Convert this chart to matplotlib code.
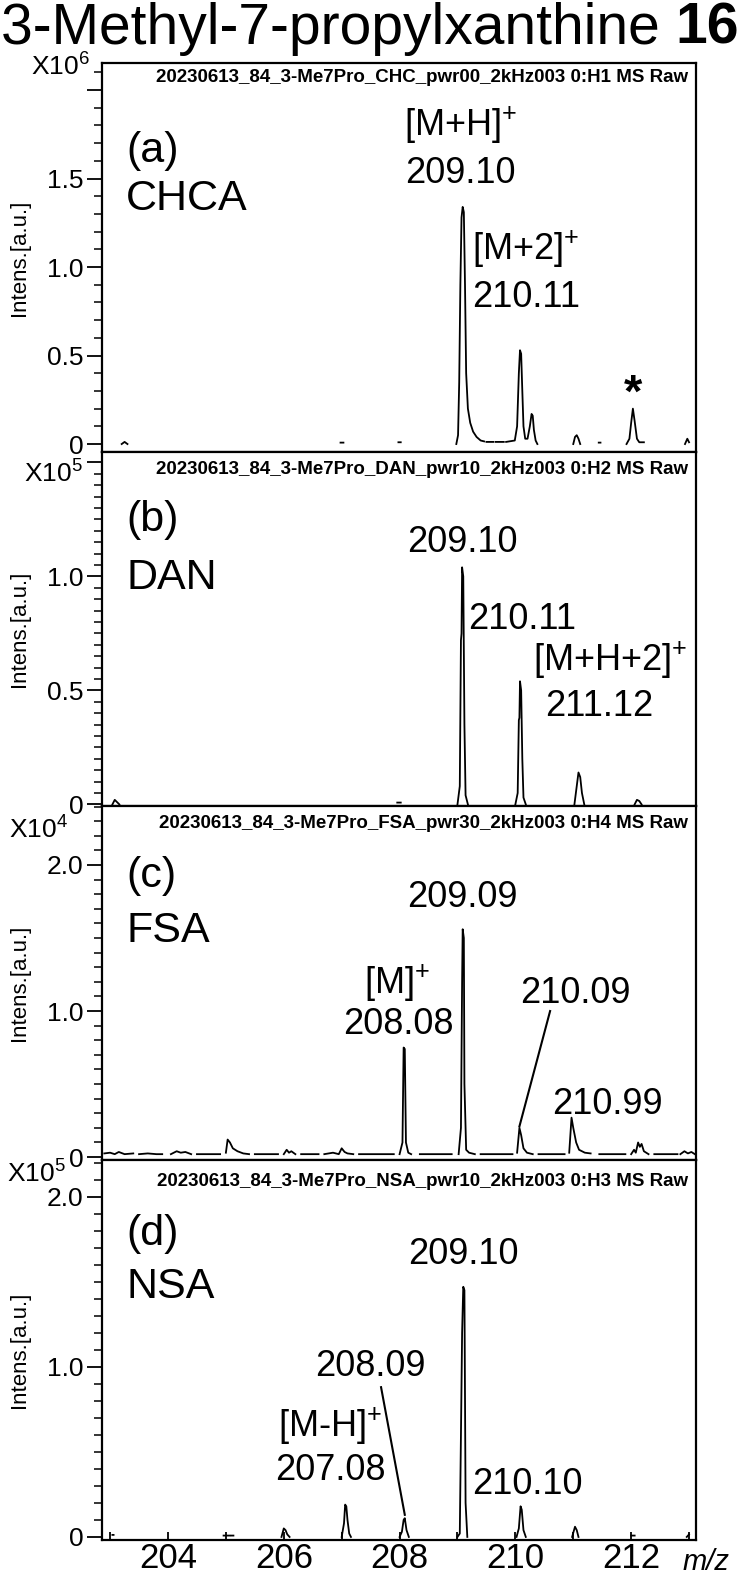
import numpy as np
import matplotlib
matplotlib.use('Agg')
import matplotlib.pyplot as plt
from matplotlib.ticker import FixedLocator, FixedFormatter, MultipleLocator

plt.rcParams['font.family'] = ['Liberation Sans', 'DejaVu Sans']
plt.rcParams['mathtext.fontset'] = 'custom'
plt.rcParams['mathtext.rm'] = 'Liberation Sans'
plt.rcParams['mathtext.it'] = 'Liberation Sans:italic'
plt.rcParams['mathtext.bf'] = 'Liberation Sans:bold'
nan = np.nan

# ---- data -------------------------------------------------------------
title = '3-Methyl-7-propylxanthine'
compound_no = '16'
panel_tags = ['(a)', '(b)', '(c)', '(d)']
matrices = ['CHCA', 'DAN', 'FSA', 'NSA']
run_names = ['20230613_84_3-Me7Pro_CHC_pwr00_2kHz003 0:H1 MS Raw',
             '20230613_84_3-Me7Pro_DAN_pwr10_2kHz003 0:H2 MS Raw',
             '20230613_84_3-Me7Pro_FSA_pwr30_2kHz003 0:H4 MS Raw',
             '20230613_84_3-Me7Pro_NSA_pwr10_2kHz003 0:H3 MS Raw']
exponents = [6, 5, 4, 5]
ylims = [(-0.045, 2.153), (-0.007, 1.546), (-0.02, 2.404), (-0.018, 2.215)]
ytick_values = [[0, 0.5, 1.0, 1.5, 2.0], [0, 0.5, 1.0, 1.5], [0, 1.0, 2.0], [0, 1.0, 2.0]]
ytick_labels = [['0', '0.5', '1.0', '1.5', ''], ['0', '0.5', '1.0', ''], ['0', '1.0', '2.0'], ['0', '1.0', '2.0']]
minor_steps = [0.1, 0.05, 0.1, 0.1]

xticks = [204, 206, 208, 210, 212]
xlim = (202.86, 213.12)

# spectra (intensity in units of 10^exponent), nan separates segments
chca_mz = [203.20, 203.25, 203.30, nan,
           206.98, 207.03, nan,
           207.98, 208.02, nan,
           208.98, 209.01, 209.03, 209.05, 209.07, 209.09, 209.11, 209.13, 209.15, 209.18,
           209.22, 209.27, 209.33, 209.40, 209.46, nan,
           209.50, 209.62, nan, 209.66, 209.80, nan,
           209.84, 209.99, 210.03, 210.06, 210.08, 210.10, 210.12, 210.14, 210.17, 210.21,
           210.25, 210.28, 210.30, 210.32, 210.35, 210.38, nan,
           211.00, 211.03, 211.06, 211.09, 211.12, nan,
           211.44, 211.47, nan,
           211.92, 211.97, 212.00, 212.03, 212.06, 212.10, 212.14, 212.22, nan,
           212.93, 212.97, 213.00]
chca_int = [0, 0.012, 0, nan,
            0.008, 0.008, nan,
            0.01, 0.01, nan,
            0, 0.05, 0.35, 0.90, 1.28, 1.34, 1.31, 0.90, 0.40, 0.20,
            0.12, 0.07, 0.04, 0.02, 0.015, nan,
            0.012, 0.012, nan, 0.012, 0.012, nan,
            0.012, 0.02, 0.10, 0.40, 0.53, 0.51, 0.30, 0.10, 0.03, 0.03,
            0.10, 0.17, 0.16, 0.08, 0.02, 0, nan,
            0, 0.04, 0.05, 0.03, 0, nan,
            0.008, 0.008, nan,
            0, 0.03, 0.12, 0.20, 0.13, 0.03, 0.01, 0.01, nan,
            0, 0.03, 0.01]

dan_mz = [203.04, 203.08, 203.12, 203.16, nan,
          207.96, 208.02, nan,
          209.00, 209.04, 209.06, 209.07, 209.08, 209.10, 209.12, 209.14, 209.18, nan,
          210.00, 210.04, 210.06, 210.07, 210.08, 210.10, 210.12, 210.14, 210.18, nan,
          211.02, 211.06, 211.09, 211.12, 211.15, 211.19, nan,
          212.06, 212.10, 212.14, 212.18]
dan_int = [0, 0.02, 0.01, 0, nan,
           0.008, 0.008, nan,
           0, 0.08, 0.72, 0.75, 1.04, 1.00, 0.35, 0.04, 0, nan,
           0, 0.05, 0.37, 0.38, 0.54, 0.50, 0.20, 0.03, 0, nan,
           0, 0.08, 0.14, 0.12, 0.05, 0, nan,
           0, 0.02, 0.015, 0]

fsa_mz = [202.90, 203.00, 203.08, 203.15, 203.25, 203.40, nan,
          203.50, 203.65, 203.80, 203.90, nan,
          204.05, 204.15, 204.22, 204.30, 204.40, nan,
          204.50, 204.70, 204.90, nan,
          205.00, 205.03, 205.07, 205.12, 205.20, 205.30, 205.40, nan,
          205.50, 205.70, 205.90, nan,
          206.00, 206.05, 206.09, 206.13, 206.20, nan,
          206.30, 206.45, 206.60, nan,
          206.70, 206.85, 206.95, 207.00, 207.05, 207.10, 207.20, nan,
          207.30, 207.50, 207.70, 207.90, nan,
          208.00, 208.05, 208.07, 208.09, 208.11, 208.15, 208.20, nan,
          208.35, 208.55, 208.75, 208.90, nan,
          209.02, 209.06, 209.08, 209.09, 209.11, 209.12, 209.15, 209.20, 209.30, nan,
          209.40, 209.60, 209.80, 209.95, nan,
          210.03, 210.07, 210.10, 210.14, 210.20, 210.30, nan,
          210.40, 210.60, 210.85, nan,
          210.93, 210.97, 211.00, 211.05, 211.10, 211.20, 211.30, nan,
          211.45, 211.65, 211.90, nan,
          212.00, 212.05, 212.08, 212.12, 212.15, 212.18, 212.22, 212.30, nan,
          212.40, 212.60, 212.80, nan,
          212.85, 212.92, 212.98, 213.04, 213.10]
fsa_int = [0.025, 0.03, 0.02, 0.035, 0.02, 0.025, nan,
           0.02, 0.025, 0.02, 0.02, nan,
           0.02, 0.04, 0.03, 0.035, 0.02, nan,
           0.02, 0.02, 0.02, nan,
           0.03, 0.12, 0.10, 0.06, 0.04, 0.025, 0.02, nan,
           0.02, 0.02, 0.02, nan,
           0.02, 0.05, 0.03, 0.04, 0.02, nan,
           0.02, 0.02, 0.02, nan,
           0.02, 0.03, 0.02, 0.06, 0.035, 0.025, 0.02, nan,
           0.02, 0.02, 0.02, 0.02, nan,
           0.02, 0.10, 0.75, 0.74, 0.10, 0.03, 0.02, nan,
           0.02, 0.02, 0.02, 0.02, nan,
           0.02, 0.20, 1.20, 1.56, 1.50, 0.50, 0.05, 0.03, 0.02, nan,
           0.02, 0.02, 0.02, 0.02, nan,
           0.03, 0.20, 0.15, 0.06, 0.03, 0.02, nan,
           0.02, 0.02, 0.02, nan,
           0.03, 0.27, 0.20, 0.10, 0.05, 0.03, 0.025, nan,
           0.02, 0.02, 0.02, nan,
           0.02, 0.05, 0.03, 0.10, 0.07, 0.09, 0.04, 0.02, nan,
           0.02, 0.02, 0.02, nan,
           0.02, 0.04, 0.025, 0.035, 0.02]

nsa_mz = [203.04, 203.06, nan,
          204.96, 205.00, nan, 205.03, 205.07, nan, 205.10, 205.13, nan,
          205.96, 206.00, 206.03, 206.06, 206.10, nan,
          207.00, 207.04, 207.06, 207.08, 207.10, 207.13, 207.16, nan,
          208.00, 208.04, 208.07, 208.09, 208.12, 208.16, nan,
          209.00, 209.04, 209.06, 209.08, 209.10, 209.12, 209.14, 209.17, nan,
          210.02, 210.06, 210.09, 210.11, 210.14, 210.18, nan,
          210.98, 211.03, 211.06, 211.09, nan,
          212.00, 212.06, nan,
          212.96, 213.00]
nsa_int = [0.012, 0.012, nan,
           0.008, 0.008, nan, 0.008, 0.008, nan, 0.008, 0.008, nan,
           0, 0.05, 0.04, 0.015, 0, nan,
           0, 0.08, 0.19, 0.18, 0.10, 0.02, 0, nan,
           0, 0.03, 0.10, 0.11, 0.04, 0, nan,
           0, 0.02, 0.60, 1.20, 1.47, 1.45, 0.20, 0, nan,
           0, 0.05, 0.18, 0.16, 0.04, 0, nan,
           0, 0.06, 0.04, 0, nan,
           0.008, 0.008, nan,
           0, 0.015]

spectra = [(chca_mz, chca_int), (dan_mz, dan_int), (fsa_mz, fsa_int), (nsa_mz, nsa_int)]

# peak annotations: (text, m/z, intensity)
peak_labels = [
    [('[M+H]$^{+}$', 209.05, 1.80), ('209.10', 209.05, 1.53),
     ('[M+2]$^{+}$', 210.18, 1.10), ('210.11', 210.18, 0.83)],
    [('209.10', 209.08, 1.15), ('210.11', 210.12, 0.81),
     ('[M+H+2]$^{+}$', 211.64, 0.63), ('211.12', 211.45, 0.43)],
    [('209.09', 209.09, 1.78), ('[M]$^{+}$', 207.95, 1.19),
     ('208.08', 207.98, 0.91), ('210.09', 211.04, 1.12),
     ('210.99', 211.59, 0.36)],
    [('209.10', 209.10, 1.66), ('208.09', 207.50, 1.00),
     ('[M-H]$^{+}$', 206.80, 0.65), ('207.08', 206.80, 0.39),
     ('210.10', 210.20, 0.31)],
]
# leader lines: (panel, label-side m/z, label-side intensity, peak m/z, peak intensity)
leaders = [(2, 210.60, 1.00, 210.07, 0.21), (3, 207.68, 0.88, 208.09, 0.13)]
star = (0, 212.03, 0.28)

# ---- figure -----------------------------------------------------------
W, H = 750, 1582
fig = plt.figure(figsize=(W / 100, H / 100), dpi=100)
bg = fig.add_axes([0, 0, 1, 1])
bg.axis('off')

panel_px = [(63, 452), (452, 806), (806, 1160), (1160, 1540)]
left, right = 102, 696
exp_x = [-0.02, -0.032, -0.057, -0.061]
exp_y = [2.13, 1.45, 2.24, 2.13]
tag_y = [0.774, 0.808, 0.802, 0.804]
name_y = [0.650, 0.644, 0.647, 0.667]
run_y = [0.962, 0.950, 0.950, 0.944]

axes = []
for i, (top, bot) in enumerate(panel_px):
    ax = fig.add_axes([left / W, 1 - bot / H, (right - left) / W, (bot - top) / H])
    axes.append(ax)
    mz, inten = spectra[i]
    ax.plot(mz, inten, color='black', lw=1.3)
    ax.set_xlim(*xlim)
    ax.set_ylim(*ylims[i])
    for s in ax.spines.values():
        s.set_linewidth(1.6)

    ax.yaxis.set_major_locator(FixedLocator(ytick_values[i]))
    ax.yaxis.set_major_formatter(FixedFormatter(ytick_labels[i]))
    ax.yaxis.set_minor_locator(MultipleLocator(minor_steps[i]))
    ax.tick_params(axis='y', which='major', direction='out', length=10.5, width=1.3,
                   labelsize=19, pad=3)
    ax.tick_params(axis='y', which='minor', direction='out', length=5.5, width=1.1)
    ax.text(exp_x[i], exp_y[i], 'X10$^{%d}$' % exponents[i],
            transform=ax.get_yaxis_transform(), ha='right', va='center', fontsize=19)
    ax.set_ylabel('Intens.[a.u.]', fontsize=16)
    ax.yaxis.set_label_coords(-0.121, 0.5)

    if i < 3:
        ax.tick_params(axis='x', which='both', bottom=False, labelbottom=False)
    else:
        ax.xaxis.set_major_locator(FixedLocator(xticks))
        ax.xaxis.set_minor_locator(MultipleLocator(1))
        ax.tick_params(axis='x', which='both', direction='in', length=6, width=1.3,
                       labelsize=25, pad=1.5)

    ax.text(0.987, run_y[i], run_names[i], transform=ax.transAxes,
            ha='right', va='center', fontsize=13.5, weight='bold')
    ax.text(0.041, tag_y[i], panel_tags[i], transform=ax.transAxes,
            ha='left', va='center', fontsize=31)
    ax.text(0.041, name_y[i], matrices[i], transform=ax.transAxes,
            ha='left', va='center', fontsize=31)
    for txt, x, y in peak_labels[i]:
        ax.text(x, y, txt, ha='center', va='center', fontsize=26, clip_on=False)

for p, x0, y0, x1, y1 in leaders:
    axes[p].plot([x0, x1], [y0, y1], color='black', lw=1.5)
axes[star[0]].text(star[1], star[2], '*', ha='center', va='center', fontsize=34,
                   weight='bold')

# title with bold compound number
t1 = bg.text(1 / W, 1 - 44 / H, title + ' ', ha='left', va='baseline', fontsize=41,
             transform=bg.transAxes)
bg.annotate(compound_no, xy=(1, 0), xycoords=t1, ha='left', va='bottom',
            fontsize=41, weight='bold')

fig.text(706 / W, 1 - 1562 / H, 'm/z', ha='center', va='center', fontsize=21,
         style='italic')

fig.savefig('out.png', dpi=100)
